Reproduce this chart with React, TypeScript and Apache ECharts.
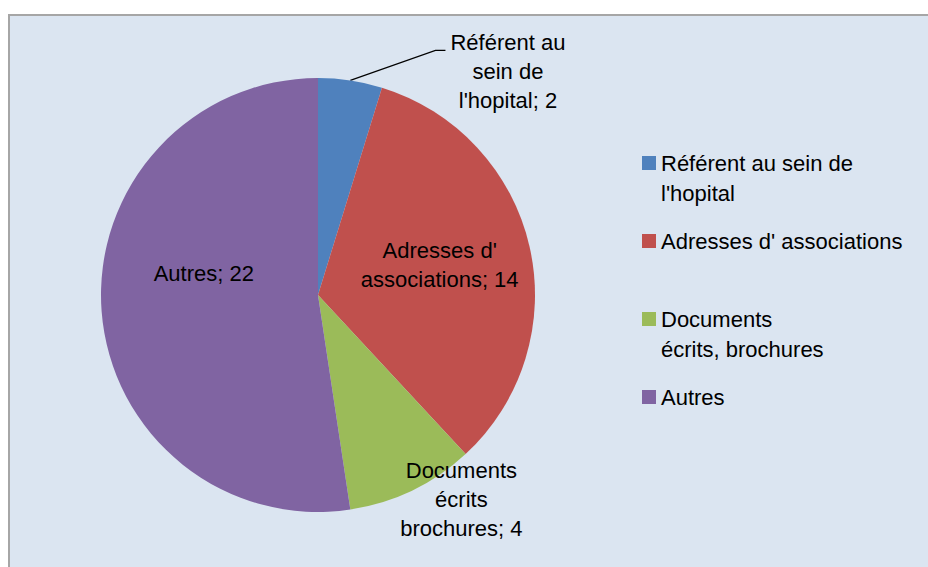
import React, { useEffect, useRef } from 'react';
import * as echarts from 'echarts';

// ---- data ----
const categories = [
  "Référent au sein de l'hopital",
  "Adresses d' associations",
  'Documents écrits, brochures',
  'Autres',
];
const values = [2, 14, 4, 22];
const legendTexts = [
  "Référent au sein de\nl'hopital",
  "Adresses d' associations",
  'Documents\nécrits, brochures',
  'Autres',
];
const sliceLabelTexts = [
  "Référent au\nsein de\nl'hopital",
  "Adresses d'\nassociations",
  'Documents\nécrits\nbrochures',
  'Autres',
];

// ---- styles / layout ----
const colors = ['#4f81bd', '#c0504d', '#9bbb59', '#8064a2'];
const FONT = "'Liberation Sans', Arial, sans-serif";
const labelNudge: Array<[number, number]> = [[0, 21], [13, -5], [95, 104], [-3, -30]];
const legendTops = [148, 226, 304, 382];
const twoLineIcon = 'path://M0,0L14,0L14,14L0,14Z M0,43.9L0.1,43.9L0.1,44L0,44Z';

export default function App() {
  const ref = useRef<HTMLDivElement>(null);
  useEffect(() => {
    if (!ref.current) return;
    const chart = echarts.init(ref.current, null, { renderer: 'svg' });
    const option: any = {
      animation: false,
      backgroundColor: '#ffffff',
      graphic: [
        {
          type: 'rect',
          z: -10,
          silent: true,
          shape: { x: 9, y: 15, width: 1000, height: 700 },
          style: { fill: '#dbe5f1', stroke: '#a6a6a6', lineWidth: 2 },
        },
      ],
      legend: categories.map((name, i) => {
        const twoLines = legendTexts[i].indexOf('\n') >= 0;
        return {
          data: [name],
          orient: 'vertical',
          left: 642,
          top: legendTops[i],
          padding: 0,
          selectedMode: false,
          itemWidth: 14,
          itemHeight: twoLines ? 44 : 14,
          icon: twoLines ? twoLineIcon : 'rect',
          formatter: (n: string) => legendTexts[categories.indexOf(n)],
          textStyle: { fontFamily: FONT, fontSize: 22, lineHeight: 30, color: '#000' },
        };
      }),
      series: [
        {
          type: 'pie',
          center: [318, 295],
          radius: 217,
          startAngle: 90,
          clockwise: true,
          avoidLabelOverlap: false,
          silent: true,
          emphasis: { disabled: true },
          itemStyle: { borderWidth: 0 },
          data: categories.map((name, i) => ({
            name,
            value: values[i],
            itemStyle: { color: colors[i] },
            label: { position: i === 0 ? 'outside' : 'inside' },
            labelLine: { show: i === 0 },
          })),
          label: {
            formatter: (p: any) => `${sliceLabelTexts[p.dataIndex]}; ${p.value}`,
            fontFamily: FONT,
            fontSize: 22,
            lineHeight: 29,
            color: '#000',
          },
          labelLine: {
            length: 30.3,
            length2: 90.6,
            smooth: false,
            lineStyle: { color: '#000', width: 1.2 },
          },
          labelLayout: (p: any) => {
            const r = p.labelRect;
            const [dx, dy] = labelNudge[p.dataIndex];
            const out: any = {
              x: r.x + r.width / 2 + dx,
              y: r.y + r.height / 2 + dy,
              align: 'center',
              verticalAlign: 'middle',
            };
            if (p.dataIndex === 0 && p.labelLinePoints) {
              const pts = p.labelLinePoints;
              const end = pts[2];
              out.labelLinePoints = [pts[0], [end[0] - 10, end[1]], end];
            }
            return out;
          },
        },
      ],
    };
    chart.setOption(option);
    return () => chart.dispose();
  }, []);
  return (
    <div
      ref={ref}
      style={{ position: 'absolute', left: 0, top: 0, width: 928, height: 567 }}
    />
  );
}
